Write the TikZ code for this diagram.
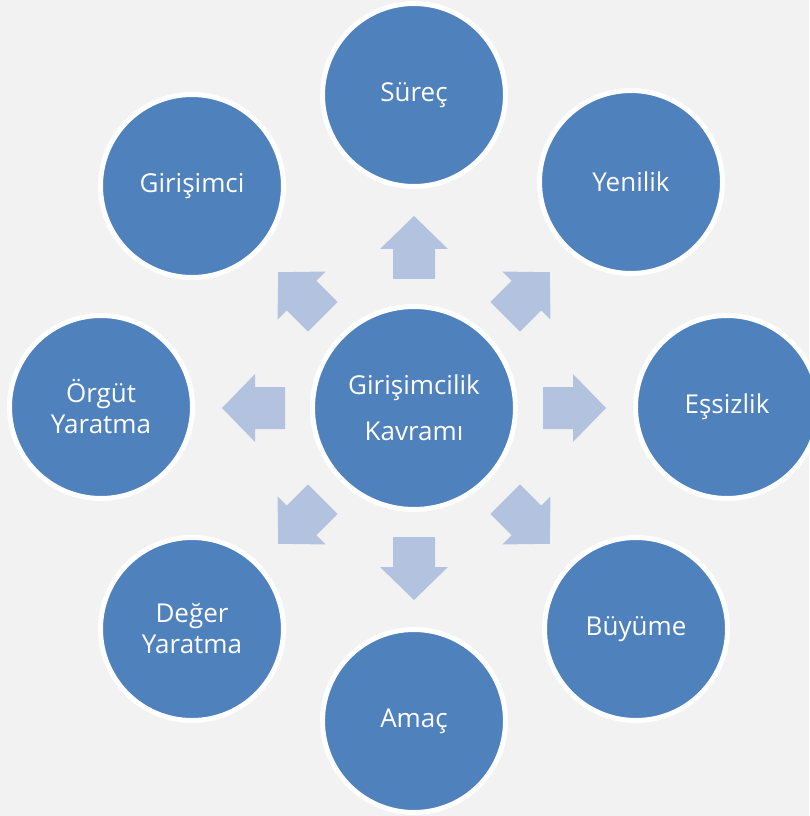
\documentclass[tikz,border=0pt]{standalone}
\usepackage{fontspec}
\setmainfont{Open Sans}

\tikzset{every picture/.style={line width=0.75pt}}
\tikzset{
  bubble/.style={circle, draw={rgb, 255:red, 255; green, 255; blue, 255 }, line width=3.75pt, fill={rgb, 255:red, 79; green, 129; blue, 189 }, minimum size=137.25pt, inner sep=0pt, align=center, text=white, font=\fontsize{19.5}{23.25}\selectfont},
  hub/.style={bubble, minimum size=152.25pt, font=\fontsize{19.5}{34.5}\selectfont},
  blockarrow/.style={fill={rgb, 255:red, 179; green, 194; blue, 222 }}
}

\begin{document}
\begin{tikzpicture}[x=0.75pt,y=0.75pt,yscale=-1,xscale=1]
        %Background [id:bg]
        \useasboundingbox (0,0) rectangle (809,816);
        \fill [fill={rgb, 255:red, 242; green, 242; blue, 242 }] (0,0) rectangle (809,816);

        %Centre circle
        \node [hub] (kavram) at (414,408) {Girişimcilik\\Kavramı};

        %Outer circles
        \node [bubble] (surec) at (414,95) {Süreç};
        \node [bubble] (yenilik) at (631,182) {Yenilik};
        \node [bubble] (essizlik) at (727,407) {Eşsizlik};
        \node [bubble] (buyume) at (636,629) {Büyüme};
        \node [bubble] (amac) at (414,721) {Amaç};
        \node [bubble] (deger) at (192,629) {Değer\\Yaratma};
        \node [bubble] (orgut) at (101,407) {Örgüt\\Yaratma};
        \node [bubble] (girisimci) at (192,186) {Girişimci};

        %Block arrows round the centre
        \foreach \ang in {0,45,...,315}{
          \fill [blockarrow, shift={(kavram.center)}, rotate=\ang] (129,-21) -- (159,-21) -- (159,-34) -- (192,0) -- (159,34) -- (159,21) -- (129,21) -- cycle ;
        }

    \end{tikzpicture}
\end{document}
